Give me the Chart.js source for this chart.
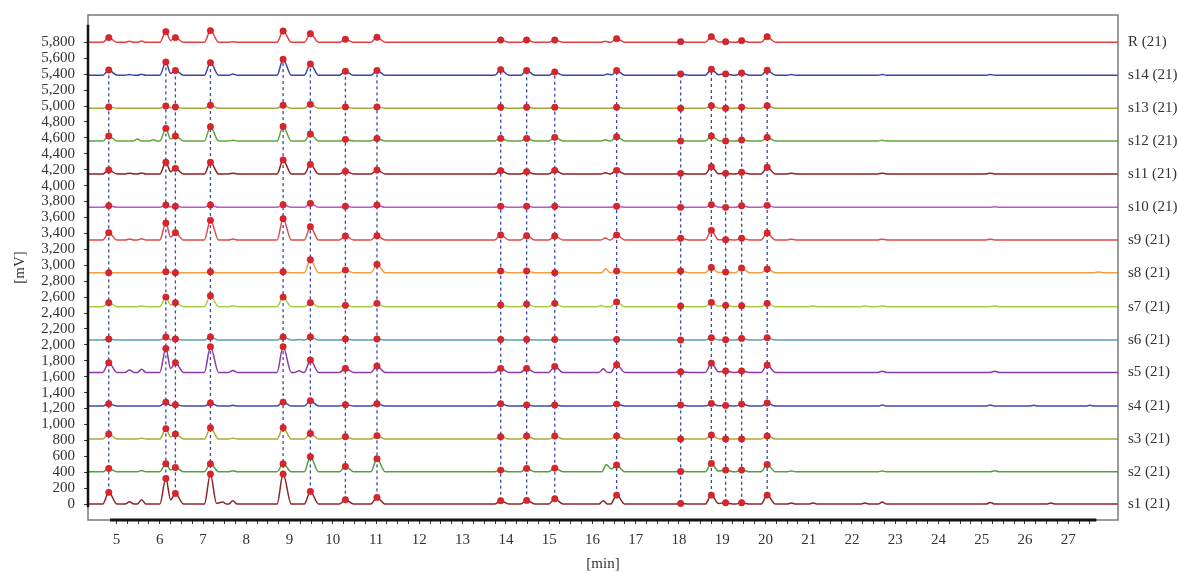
<!DOCTYPE html>
<html><head><meta charset="utf-8">
<script src="https://cdn.jsdelivr.net/npm/chart.js@4.4.1/dist/chart.umd.min.js"></script>
<style>html,body{margin:0;padding:0;background:#fff;}#wrap{width:1178px;height:573px;position:relative;}</style>
</head><body><div id="wrap"><canvas id="c" width="1178" height="573"></canvas></div>
<script>
// ---- data ----
const peakTimes = [4.82, 6.14, 6.36, 7.17, 8.85, 9.48, 10.29, 11.02, 13.88, 14.48, 15.13, 16.56, 18.04, 18.75, 19.08, 19.45, 20.04];
const traceNames = ['s1 (21)','s2 (21)','s3 (21)','s4 (21)','s5 (21)','s6 (21)','s7 (21)','s8 (21)','s9 (21)','s10 (21)','s11 (21)','s12 (21)','s13 (21)','s14 (21)','R (21)'];
const baselines = [0, 406, 817, 1231, 1654, 2060, 2479, 2906, 3317, 3727, 4146, 4560, 4971, 5386, 5800];

// peak heights (mV above baseline) at each peak time
const s1Peaks  = [147, 322, 134, 377, 377, 159, 54, 84, 42, 46, 67, 113, 8, 113, 17, 17, 113];
const s2Peaks  = [42, 100, 54, 100, 100, 188, 67, 163, 21, 42, 46, 84, 4, 105, 21, 21, 92];
const s3Peaks  = [63, 130, 63, 142, 142, 71, 29, 42, 29, 38, 38, 38, 0, 50, 0, 0, 38];
const s4Peaks  = [29, 50, 17, 38, 50, 67, 17, 29, 29, 13, 13, 25, 13, 33, 8, 25, 38];
const s5Peaks  = [121, 301, 121, 322, 322, 155, 50, 80, 50, 50, 75, 96, 8, 117, 17, 17, 92];
const s6Peaks  = [13, 38, 13, 38, 38, 38, 13, 13, 8, 8, 8, 8, 0, 29, 4, 21, 29];
const s7Peaks  = [50, 121, 50, 138, 121, 50, 17, 42, 21, 33, 42, 59, 8, 54, 17, 13, 42];
const s8Peaks  = [0, 13, 0, 13, 13, 163, 33, 105, 21, 21, 0, 21, 21, 67, 8, 59, 46];
const s9Peaks  = [92, 214, 92, 247, 268, 167, 50, 54, 63, 54, 50, 63, 21, 121, 4, 21, 88];
const s10Peaks = [21, 29, 13, 29, 33, 50, 13, 29, 13, 13, 13, 13, 0, 33, 0, 21, 25];
const s11Peaks = [50, 147, 71, 147, 176, 121, 33, 50, 42, 29, 46, 46, 8, 92, 8, 21, 84];
const s12Peaks = [63, 159, 63, 180, 184, 88, 21, 33, 33, 33, 46, 54, 0, 63, 0, 13, 46];
const s13Peaks = [17, 29, 17, 38, 38, 50, 17, 17, 13, 13, 13, 13, 0, 33, 0, 13, 33];
const s14Peaks = [67, 167, 59, 159, 201, 142, 50, 59, 71, 59, 42, 59, 17, 75, 17, 29, 63];
const rPeaks   = [59, 134, 59, 147, 142, 109, 38, 63, 29, 29, 29, 46, 8, 71, 8, 21, 71];

// small unmarked bumps [time, height]
const s1Minor  = [[5.30,30],[5.58,55],[7.45,25],[7.69,42],[16.25,42],[20.6,15],[21.1,15],[22.3,15],[22.7,25],[25.2,20],[26.6,15]];
const s2Minor  = [[5.58,15],[7.69,12],[16.32,90],[20.6,10],[22.7,10],[25.3,12]];
const s3Minor  = [[5.58,10],[7.69,10]];
const s4Minor  = [[7.69,10],[22.7,12],[25.2,12],[26.2,10],[27.5,10]];
const s5Minor  = [[5.30,30],[5.58,38],[7.69,25],[9.22,20],[16.25,45],[22.7,15],[25.3,15]];
const s6Minor  = [[9.22,8]];
const s7Minor  = [[5.58,10],[7.69,12],[16.2,15],[21.1,10],[22.3,10],[22.7,10],[25.3,10]];
const s8Minor  = [[16.31,50],[27.7,10]];
const s9Minor  = [[5.30,12],[5.58,15],[7.69,12],[16.3,25],[20.6,10],[22.7,10],[25.2,10]];
const s10Minor = [[25.3,8]];
const s11Minor = [[5.30,10],[5.58,12],[7.69,10],[16.3,15],[20.6,10],[22.7,10],[25.2,10]];
const s12Minor = [[5.48,25],[5.85,15],[7.69,10],[16.3,15],[22.7,10]];
const s13Minor = [];
const s14Minor = [[5.30,10],[5.58,12],[7.69,15],[16.35,15],[20.6,10],[22.7,10],[25.2,10]];
const rMinor   = [[5.30,12],[5.58,15],[7.69,8],[16.3,12]];

const traceColors = ['#8b2626','#4fa23c','#a8aa3a','#3f48b0','#8a3aa6','#5aa2ad','#a6cf42','#f0a040','#e04a4a','#b45cc4','#8c1f22','#5ea63e','#a3a63a','#3846a8','#e2413f'];

const yTickValues = [0,200,400,600,800,1000,1200,1400,1600,1800,2000,2200,2400,2600,2800,3000,3200,3400,3600,3800,4000,4200,4400,4600,4800,5000,5200,5400,5600,5800];
const xMajorTicks = [5,6,7,8,9,10,11,12,13,14,15,16,17,18,19,20,21,22,23,24,25,26,27];

// ---- layout constants ----
const X_MIN = 4.34, X_MAX = 28.15, Y_MIN = -200, Y_MAX = 6143;
const AXIS_START = 4.85, AXIS_END = 27.65;

const allPeaks = [s1Peaks,s2Peaks,s3Peaks,s4Peaks,s5Peaks,s6Peaks,s7Peaks,s8Peaks,s9Peaks,s10Peaks,s11Peaks,s12Peaks,s13Peaks,s14Peaks,rPeaks];
const allMinor = [s1Minor,s2Minor,s3Minor,s4Minor,s5Minor,s6Minor,s7Minor,s8Minor,s9Minor,s10Minor,s11Minor,s12Minor,s13Minor,s14Minor,rMinor];

function buildTrace(base, heights, minor){
  const ev = [];
  peakTimes.forEach((t,i)=>{ if (heights[i] > 0) ev.push({t, h:heights[i], wl:0.14, wr:0.19}); });
  minor.forEach(([t,h])=>ev.push({t, h, wl:0.10, wr:0.10}));
  ev.sort((a,b)=>a.t-b.t);
  const pts = [{x:X_MIN, y:base}];
  let prev = null;
  ev.forEach(e=>{
    const left = e.t - e.wl;
    if (prev && left <= prev.t + prev.wr) {
      pts.pop();
      pts.push({x:(prev.t + e.t)/2, y: base + 0.4*Math.min(prev.h, e.h)});
    } else {
      pts.push({x:left, y:base});
    }
    pts.push({x:e.t, y:base + e.h});
    pts.push({x:e.t + e.wr, y:base});
    prev = e;
  });
  pts.push({x:X_MAX, y:base});
  return pts;
}

const datasets = [];
const markerPts = [];
allPeaks.forEach((hs, k)=>{ peakTimes.forEach((t,i)=>markerPts.push({x:t, y:baselines[k]+hs[i]})); });
datasets.push({type:'scatter', label:'peaks', data:markerPts, showLine:false, pointRadius:3.2, pointBackgroundColor:'#d8262d', pointBorderColor:'#c21a22', pointBorderWidth:0.6, order:0});
peakTimes.forEach((t,i)=>{
  datasets.push({type:'line', label:'link'+i, data:[{x:t, y:baselines[0]+s1Peaks[i]},{x:t, y:baselines[13]+s14Peaks[i]}],
    borderColor:'#3a48a8', borderWidth:1.3, borderDash:[3,3], pointRadius:0, fill:false, order:1});
});
allPeaks.forEach((hs,k)=>{
  datasets.push({type:'line', label:traceNames[k], data:buildTrace(baselines[k], hs, allMinor[k]),
    borderColor:traceColors[k], borderWidth:1.5, pointRadius:0, fill:false, cubicInterpolationMode:'monotone', order:2});
});

const FONT = {family:'"Liberation Serif", "DejaVu Serif", serif', size:15};

const framePlugin = {
  id:'frame',
  afterDraw(chart){
    const {ctx, chartArea:a, scales:{x, y}} = chart;
    ctx.save();
    ctx.strokeStyle = '#7a7a7a'; ctx.lineWidth = 1.5;
    ctx.strokeRect(a.left, a.top, a.right - a.left, a.bottom - a.top);
    ctx.strokeStyle = '#111'; ctx.lineWidth = 3;
    ctx.beginPath(); ctx.moveTo(x.getPixelForValue(AXIS_START), a.bottom); ctx.lineTo(x.getPixelForValue(AXIS_END), a.bottom); ctx.stroke();
    ctx.lineWidth = 2.5;
    ctx.beginPath(); ctx.moveTo(a.left, y.getPixelForValue(6020)); ctx.lineTo(a.left, y.getPixelForValue(-40)); ctx.stroke();
    ctx.restore();
  }
};

function noPad(s){ s.paddingTop = 0; s.paddingBottom = 0; s.paddingLeft = 0; s.paddingRight = 0; }

new Chart(document.getElementById('c'), {
  type:'line',
  data:{datasets},
  plugins:[framePlugin],
  options:{
    responsive:false, animation:false, events:[],
    layout:{padding:{top:15,left:0,right:0,bottom:0}},
    plugins:{legend:{display:false}, tooltip:{enabled:false}},
    scales:{
      x:{type:'linear', min:X_MIN, max:X_MAX, position:'bottom',
        afterBuildTicks(s){ const t=[]; for(let v=5; v<=27.5001; v+=0.25) t.push({value:v}); s.ticks=t; },
        afterFit(s){ s.height = 53; noPad(s); },
        grid:{drawOnChartArea:false, drawTicks:true, tickLength:4, tickColor:'#333', tickWidth:1},
        border:{display:false},
        ticks:{autoSkip:false, maxRotation:0, padding:7, color:'#333', font:FONT,
          callback:(v)=> xMajorTicks.includes(v) ? String(v) : ''},
        title:{display:true, text:'[min]', color:'#333', font:FONT, padding:{top:0,bottom:0}}
      },
      y:{type:'linear', min:Y_MIN, max:Y_MAX, position:'left',
        afterBuildTicks(s){ s.ticks = yTickValues.map(v=>({value:v})); },
        afterFit(s){ s.width = 88; noPad(s); },
        grid:{drawOnChartArea:false, drawTicks:true, tickLength:4, tickColor:'#333'},
        border:{display:false},
        ticks:{autoSkip:false, padding:9, color:'#333', font:FONT,
          callback:(v)=> String(v).replace(/\B(?=(\d{3})+(?!\d))/g, ',')},
        title:{display:true, text:'[mV]', color:'#333', font:FONT, padding:{top:11,bottom:0}}
      },
      y2:{type:'linear', min:Y_MIN, max:Y_MAX, position:'right',
        afterBuildTicks(s){ s.ticks = baselines.map(v=>({value:v})); },
        afterFit(s){ s.width = 60; noPad(s); },
        grid:{display:false, drawTicks:false},
        border:{display:false},
        ticks:{autoSkip:false, padding:10, color:'#333', font:FONT,
          callback:(v,i)=> traceNames[i]}
      }
    }
  }
});
</script></body></html>
